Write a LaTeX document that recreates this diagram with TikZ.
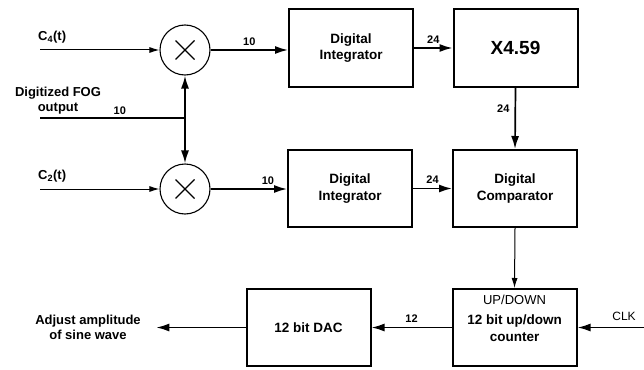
\documentclass[tikz,border=0pt]{standalone}
\usepackage{fontspec}
\setmainfont{Liberation Sans}
\usetikzlibrary{arrows.meta, calc, positioning}

\begin{document}
\begin{tikzpicture}[x=1pt, y=-1pt,
    >=Latex,
    blk/.style={draw, line width=2pt, minimum width=124pt, minimum height=77pt,
      align=center, font=\fontsize{13.5}{16.5}\selectfont\bfseries},
    mix/.style={draw, circle, line width=1.1pt, minimum size=50pt, inner sep=0pt},
    sig/.style={-{Latex[length=13pt,width=8pt]}, line width=1.7pt},
    thinsig/.style={-{Latex[length=10pt,width=6pt]}, line width=1pt},
    lbl/.style={font=\fontsize{11}{13}\selectfont\bfseries, inner sep=1pt},
    txt/.style={font=\fontsize{13}{15}\selectfont\bfseries, align=center}
  ]
  \useasboundingbox (0,0) rectangle (644,369);

  % blocks
  \node[blk] (int1) at (351,48) {Digital\\Integrator};
  \node[blk, font=\fontsize{19}{22}\selectfont\bfseries] (mul) at (515.5,48) {X4.59};
  \node[blk] (int2) at (350,188.5) {Digital\\Integrator};
  \node[blk] (cmp) at (515,188.5) {Digital\\Comparator};
  \node[blk, label={[anchor=north, yshift=-4pt, font=\fontsize{13}{15}\selectfont]north:UP/DOWN}]
    (cnt) at (514.5,327.5) {\\[-5pt]12 bit up/down\\counter};
  \node[blk] (dac) at (308.5,327.5) {12 bit DAC};

  % mixers
  \node[mix] (mix1) at (185,50) {};
  \node[mix] (mix2) at (185,189) {};
  \foreach \m in {mix1,mix2}
    \draw[line width=1.2pt] ($(\m)+(-9.5,-9.5)$) -- ($(\m)+(9.5,9.5)$)
      ($(\m)+(-9.5,9.5)$) -- ($(\m)+(9.5,-9.5)$);

  % inputs and outputs
  \coordinate (c4in) at (40,50);
  \coordinate (c2in) at (40,189);
  \coordinate (fog) at (40,118);
  \coordinate (j) at (185,118);
  \coordinate (clk) at (644,327.5);
  \node[txt, anchor=south west, inner sep=1pt] (c4lbl) at (37,44) {C\textsubscript{4}(t)};
  \node[txt, anchor=south west, inner sep=1pt] (c2lbl) at (37,183) {C\textsubscript{2}(t)};
  \node[txt] (foglbl) at (58,101) {Digitized FOG\\output};
  \node[txt] (adj) at (88,327) {Adjust amplitude\\of sine wave};

  \draw[thinsig] (c4in) -- (mix1.west);
  \draw[thinsig] (c2in) -- (mix2.west);
  \draw[line width=1.7pt] (fog) -- (j) node[pos=0.55, above=2pt, lbl] {10};
  \draw[sig] (j) -- (mix1.south);
  \draw[sig] (j) -- (mix2.north);

  \draw[sig] (mix1.east) -- (mix1.east -| int1.west) node[midway, above=3pt, lbl] {10};
  \draw[sig] (mix2.east) -- (mix2.east -| int2.west) node[pos=0.75, above=3pt, lbl] {10};
  \draw[sig] (int1.east) -- (mul.west) node[midway, above=3pt, lbl] {24};
  \draw[sig] (int2.east) -- (cmp.west) node[midway, above=3pt, lbl] {24};
  \draw[sig] (mul.south) -- (cmp.north) node[pos=0.35, left=4pt, lbl] {24};
  \draw[thinsig] (cmp.south) -- (cnt.north);
  \draw[sig] (cnt.west) -- (dac.east) node[midway, above=3pt, lbl] {12};
  \draw[sig] (clk) -- (cnt.east) node[pos=0.3, above=3pt, font=\fontsize{12}{14}\selectfont] {CLK};
  \draw[sig, shorten >=12pt] (dac.west) -- (dac.west -| adj.east);
\end{tikzpicture}
\end{document}
